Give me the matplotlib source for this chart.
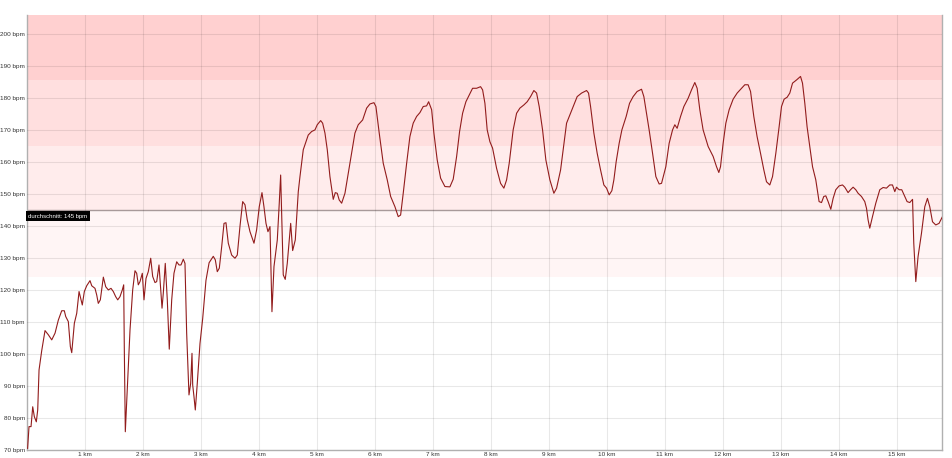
import matplotlib
matplotlib.use("Agg")
from matplotlib import pyplot as plt

plt.rcParams["font.family"] = ["Liberation Sans", "DejaVu Sans"]

# heart rate along the run
km = [0.01, 0.034, 0.069, 0.098, 0.126, 0.160, 0.184, 0.207, 0.253, 0.310,
      0.367, 0.426, 0.483, 0.540, 0.598, 0.643, 0.667, 0.712, 0.747, 0.771,
      0.816, 0.857, 0.897, 0.931, 0.953, 0.988, 1.029, 1.086, 1.116, 1.172,
      1.202, 1.229, 1.264, 1.316, 1.357, 1.402, 1.448, 1.488, 1.529, 1.564,
      1.603, 1.643, 1.667, 1.678, 1.695, 1.729, 1.776, 1.822, 1.862, 1.891,
      1.919, 1.948, 1.988, 2.017, 2.052, 2.091, 2.133, 2.167, 2.207, 2.236,
      2.276, 2.328, 2.350, 2.384, 2.419, 2.453, 2.495, 2.534, 2.581, 2.621,
      2.655, 2.695, 2.724, 2.753, 2.793, 2.822, 2.845, 2.857, 2.879, 2.902,
      2.936, 2.983, 3.029, 3.086, 3.14, 3.212, 3.247, 3.281, 3.316, 3.357,
      3.397, 3.431, 3.471, 3.529, 3.586, 3.626, 3.672, 3.719, 3.759, 3.798,
      3.845, 3.914, 3.960, 4.005, 4.052, 4.086, 4.121, 4.155, 4.190, 4.224,
      4.259, 4.316, 4.350, 4.374, 4.397, 4.419, 4.453, 4.488, 4.547, 4.581,
      4.626, 4.678, 4.707, 4.736, 4.764, 4.850, 4.909, 4.966, 5.005, 5.064,
      5.098, 5.138, 5.178, 5.224, 5.281, 5.316, 5.350, 5.384, 5.426, 5.483,
      5.540, 5.598, 5.655, 5.712, 5.788, 5.857, 5.914, 5.983, 6.017, 6.074,
      6.143, 6.212, 6.271, 6.345, 6.402, 6.443, 6.488, 6.547, 6.603, 6.660,
      6.719, 6.776, 6.833, 6.891, 6.926, 6.978, 7.017, 7.074, 7.133, 7.207,
      7.293, 7.350, 7.409, 7.460, 7.512, 7.569, 7.626, 7.684, 7.753, 7.822,
      7.857, 7.897, 7.936, 7.983, 8.029, 8.098, 8.167, 8.224, 8.271, 8.316,
      8.384, 8.443, 8.500, 8.569, 8.626, 8.684, 8.741, 8.788, 8.833, 8.891,
      8.948, 9.017, 9.086, 9.133, 9.202, 9.247, 9.305, 9.362, 9.431, 9.488,
      9.564, 9.650, 9.684, 9.719, 9.776, 9.833, 9.891, 9.948, 9.995, 10.040,
      10.086, 10.121, 10.160, 10.212, 10.259, 10.333, 10.391, 10.453, 10.522, 10.598,
      10.638, 10.684, 10.729, 10.788, 10.845, 10.902, 10.943, 11.017, 11.074, 11.133,
      11.172, 11.212, 11.271, 11.328, 11.402, 11.460, 11.517, 11.557, 11.603, 11.660,
      11.747, 11.833, 11.891, 11.931, 11.960, 12.005, 12.052, 12.109, 12.178, 12.247,
      12.322, 12.379, 12.436, 12.478, 12.534, 12.591, 12.650, 12.707, 12.753, 12.810,
      12.857, 12.914, 12.971, 13.012, 13.057, 13.109, 13.155, 13.202, 13.271, 13.340,
      13.374, 13.414, 13.453, 13.500, 13.547, 13.603, 13.660, 13.702, 13.741, 13.776,
      13.816, 13.862, 13.902, 13.948, 14.005, 14.064, 14.103, 14.160, 14.202, 14.247,
      14.293, 14.333, 14.391, 14.448, 14.478, 14.505, 14.534, 14.581, 14.638, 14.707,
      14.764, 14.822, 14.879, 14.926, 14.966, 14.995, 15.040, 15.086, 15.138, 15.178,
      15.224, 15.272, 15.293, 15.328, 15.367, 15.426, 15.483, 15.529, 15.569, 15.616,
      15.672, 15.729, 15.788]
bpm = [70.5, 77.3, 77.3, 83.5, 80.4, 78.8, 82.5, 95, 101, 107.3,
       106, 104.4, 106.5, 110.6, 113.5, 113.5, 111.7, 110.1, 102.3, 100.4,
       109.6, 112.7, 119.5, 116.9, 115.3, 119.5, 121.3, 122.9, 121.3, 120.5,
       118.4, 115.8, 116.9, 124, 121, 120, 120.5, 119.5, 117.9, 116.9,
       117.9, 120, 121.6, 101, 75.7, 88.8, 107.5, 120, 126, 125.2,
       121.6, 122.6, 125.2, 116.9, 123.6, 125.7, 129.9, 124.2, 122.3, 122.6,
       127.8, 114.3, 119, 128.3, 116.9, 101.5, 116.9, 125.2, 128.8, 127.8,
       127.8, 129.6, 128.3, 106.5, 87.2, 90.8, 100.2, 90.3, 86.7, 82.5,
       90.8, 103.3, 111, 123, 128.5, 130.5, 129.4, 125.7, 126.8, 133.5,
       140.8, 141, 134.6, 130.9, 129.9, 130.9, 139.8, 147.6, 146.6, 141.9,
       138.2, 134.6, 138.8, 146, 150.4, 146, 140.8, 138.2, 139.8, 113.2,
       127.3, 135.6, 147.1, 155.9, 139.8, 124.7, 123.3, 128.3, 140.8, 132.3,
       135.6, 150.7, 155.4, 159.6, 163.8, 168.4, 169.5, 170, 171.6, 172.9,
       172.1, 169, 163.8, 155.4, 148.3, 150.4, 150.2, 148.1, 147.1, 150.2,
       156.5, 162.7, 169, 171.6, 173.1, 176.8, 178.1, 178.5, 177.3, 169,
       159.6, 154.4, 149.2, 146, 142.9, 143.4, 150.2, 159.6, 167.9, 172.1,
       174.2, 175.4, 177.3, 177.5, 178.8, 176.3, 169, 160.6, 154.9, 152.3,
       152.2, 154.6, 161.7, 169.5, 175.2, 178.8, 180.9, 183, 183, 183.5,
       182.5, 178.3, 170, 166.3, 164.3, 158, 153.3, 151.8, 154.4, 159.6,
       170, 175.2, 176.8, 177.8, 178.8, 180.4, 182.3, 181.5, 177.3, 170,
       160.6, 154.4, 150.2, 151.8, 157.5, 163.8, 172.1, 174.7, 177.8, 180.4,
       181.5, 182.3, 181.5, 177.3, 169, 162.7, 157.5, 152.8, 151.8, 149.7,
       151, 154.4, 160, 165.8, 170, 174.2, 178.3, 180.4, 182, 182.7,
       180.4, 175.2, 170, 162.7, 155.4, 153.1, 153.3, 158.5, 165.8, 170,
       171.6, 170.5, 174.2, 177.3, 179.9, 182.5, 184.8, 183, 176.3, 170,
       164.8, 161.7, 158.5, 156.7, 158.5, 165.8, 172.1, 176.3, 179.6, 181.5,
       183, 184.1, 184.1, 182, 174.2, 167.9, 162.7, 157.5, 153.8, 152.8,
       155.4, 162.7, 171, 177.3, 179.6, 180.2, 181.5, 184.6, 185.6, 186.7,
       184.6, 178.3, 171, 164.8, 158.5, 154.4, 147.6, 147.3, 149.2, 149.4,
       147.6, 145.2, 148.6, 151.3, 152.5, 152.8, 152.1, 150.4, 151.3, 152.1,
       151.3, 150.2, 149.2, 147.6, 145.5, 141.9, 139.3, 142.9, 147.1, 151.3,
       152, 151.8, 152.8, 152.8, 150.7, 152.1, 151.3, 151.3, 149.2, 147.6,
       147.3, 148.3, 134.6, 122.6, 130.4, 137.7, 146, 148.6, 146, 141.3,
       140.3, 140.8, 142.9]

avg_bpm = 145
zones = [(124, 145, "#fff5f5"), (145, 165, "#ffecec"),
         (165, 185.5, "#ffdfdf"), (185.5, 210, "#ffd0d0")]
y_ticks = list(range(70, 201, 10))
x_ticks = list(range(1, 16))

fig = plt.figure(figsize=(9.52, 4.58), dpi=100)
ax = fig.add_axes([0.0284, 0.0175, 0.9611, 0.9498])

for lo, hi, col in zones:
    ax.axhspan(lo, hi, color=col, lw=0, zorder=0)

ax.set_xlim(0, 15.78)
ax.set_ylim(70, 205.9)
ax.set_yticks(y_ticks)
ax.set_yticklabels([f"{v} bpm" for v in y_ticks])
ax.set_xticks(x_ticks)
ax.set_xticklabels([f"{v} km" for v in x_ticks])
ax.tick_params(length=0, labelsize=4.6, colors="#333333", pad=1.5)
ax.grid(True, color="black", alpha=0.09, lw=0.8)
ax.set_axisbelow(False)

ax.spines["top"].set_visible(False)
for s in ["left", "bottom", "right"]:
    ax.spines[s].set_color("#b0b0b0")
    ax.spines[s].set_linewidth(1)

ax.axhline(avg_bpm, color="#a89a9a", lw=1, zorder=2)
ax.annotate(f"durchschnitt: {avg_bpm} bpm", xy=(0, avg_bpm), xytext=(1, -4.5),
            textcoords="offset points", fontsize=4.3, color="white",
            va="center", ha="left", zorder=4,
            bbox=dict(boxstyle="square,pad=0.4", fc="black", ec="none"))

ax.plot(km, bpm, color="#921c1c", lw=0.8, zorder=3)

fig.savefig("out.png", dpi=100)
